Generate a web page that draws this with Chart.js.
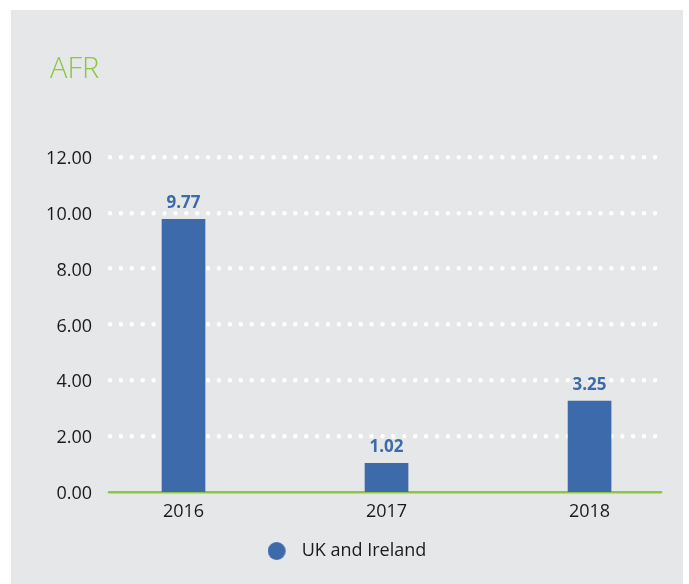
<!DOCTYPE html>
<html lang="en">
<head>
    <meta charset="UTF-8">
    <title>AFR</title>
    <style>
        body {
            margin: 0;
            background: #ffffff;
            font-family: "Open Sans", sans-serif;
        }
        .panel {
            position: absolute;
            left: 11px;
            top: 10px;
            width: 672px;
            height: 574px;
            background: #e6e7e8;
        }
        .panel h2 {
            position: absolute;
            left: 39px;
            top: 42px;
            margin: 0;
            font-size: 29px;
            line-height: 29px;
            font-weight: 300;
            color: #8dc63f;
        }
        .panel canvas {
            position: absolute;
            left: 0;
            top: 0;
        }
    </style>
</head>
<body>
<div class="panel">
    <canvas id="afrChart" width="672" height="574"></canvas>
    <h2>AFR</h2>
</div>

<script src="https://cdn.jsdelivr.net/npm/chart.js"></script>
<script>
// data
const categories = ['2016', '2017', '2018'];
const afrValues = [9.77, 1.02, 3.25];
const seriesName = 'UK and Ireland';
const yTicks = { min: 0, max: 12, step: 2 };

const blue = '#3d6aab';
const green = '#8dc63f';
const fontFamily = '"Open Sans", sans-serif';

// legend marker: circle on the left of a wider box, so the text sits further off
const legendDot = document.createElement('canvas');
legendDot.width = 25;
legendDot.height = 18;
const dctx = legendDot.getContext('2d');
dctx.fillStyle = blue;
dctx.beginPath();
dctx.arc(9, 9, 9, 0, Math.PI * 2);
dctx.fill();

// dotted grid lines need round caps
const roundCaps = {
    id: 'roundCaps',
    beforeDraw(chart) {
        chart.ctx.lineCap = 'round';
    }
};

// value labels above the bars
const barValues = {
    id: 'barValues',
    afterDatasetsDraw(chart) {
        const ctx = chart.ctx;
        ctx.save();
        ctx.font = 'bold 17px ' + fontFamily;
        ctx.fillStyle = blue;
        ctx.textAlign = 'center';
        ctx.textBaseline = 'alphabetic';
        chart.getDatasetMeta(0).data.forEach((bar, i) => {
            ctx.fillText(afrValues[i].toFixed(2), bar.x, bar.y - 11);
        });
        ctx.restore();
    }
};

new Chart(document.getElementById('afrChart').getContext('2d'), {
    type: 'bar',
    data: {
        datasets: [{
            label: seriesName,
            data: afrValues.map((v, i) => ({ x: i, y: v })),
            backgroundColor: blue,
            borderWidth: 0,
            barThickness: 43
        }]
    },
    options: {
        responsive: false,
        animation: false,
        layout: { padding: { left: 23, right: 23, top: 147, bottom: 14 } },
        plugins: {
            legend: {
                position: 'bottom',
                labels: {
                    usePointStyle: true,
                    pointStyle: legendDot,
                    pointStyleWidth: 25,
                    boxHeight: 13,
                    padding: 10.5,
                    color: '#1a1a1a',
                    font: { family: fontFamily, size: 18 }
                }
            },
            tooltip: { enabled: false }
        },
        scales: {
            x: {
                type: 'linear',
                offset: false,
                min: -0.362,
                max: 2.347,
                grid: { display: false, drawTicks: false, offset: false },
                border: { display: true, color: green, width: 2.5 },
                ticks: {
                    stepSize: 1,
                    includeBounds: false,
                    padding: 9,
                    color: '#1a1a1a',
                    font: { family: fontFamily, size: 18 },
                    callback: v => categories[v]
                }
            },
            y: {
                min: yTicks.min,
                max: yTicks.max,
                afterFit: s => { s.width = 76; },
                grid: {
                    drawTicks: false,
                    color: '#ffffff',
                    lineWidth: c => (c.tick && c.tick.value === 0 ? 0 : 4.5)
                },
                border: { display: false, dash: [0, 10.9] },
                ticks: {
                    stepSize: yTicks.step,
                    padding: 18,
                    labelOffset: 2,
                    color: '#1a1a1a',
                    font: { family: fontFamily, size: 18 },
                    callback: v => v.toFixed(2)
                }
            }
        }
    },
    plugins: [roundCaps, barValues]
});
</script>
</body>
</html>
